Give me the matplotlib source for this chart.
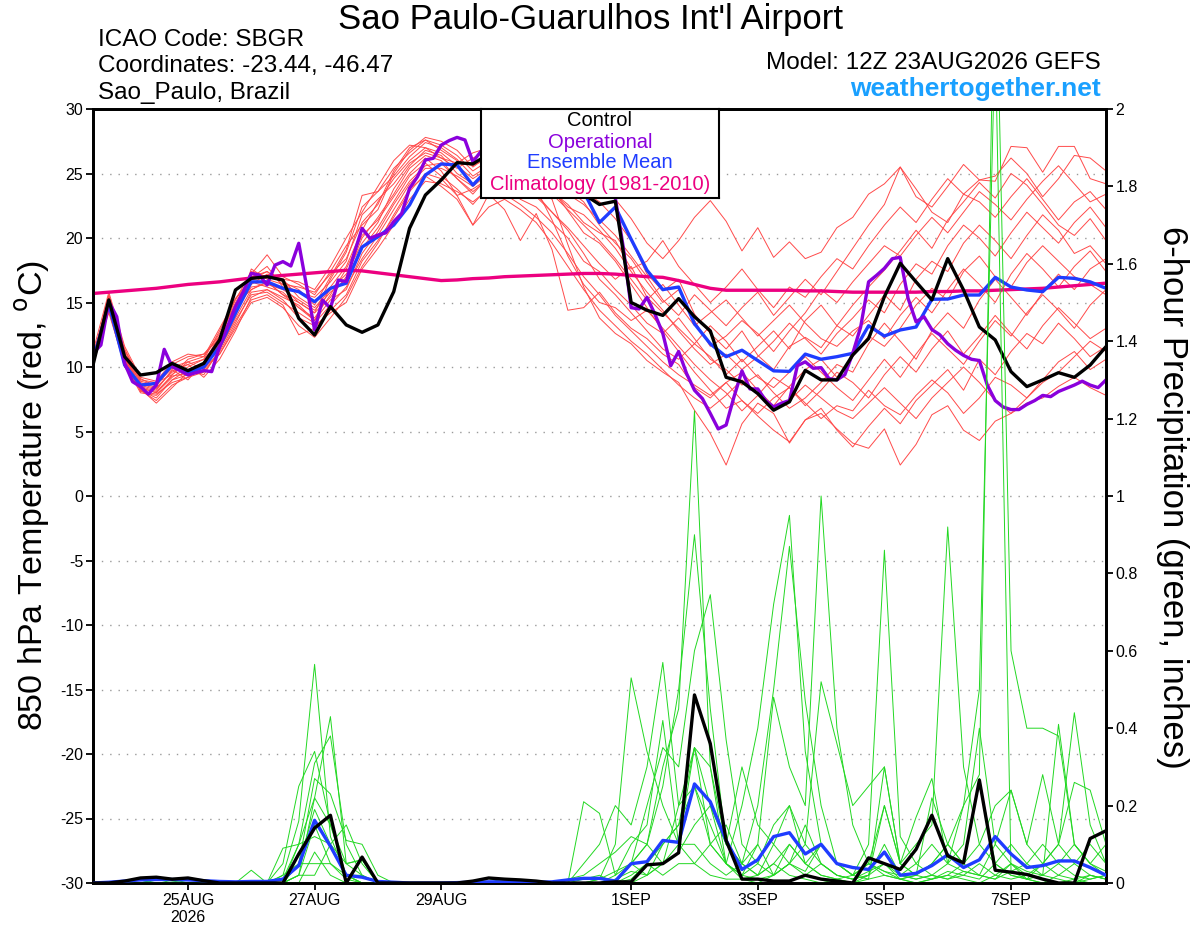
import matplotlib
matplotlib.use('Agg')
import matplotlib.pyplot as plt
import pandas as pd

plt.rcParams['font.family'] = ['Liberation Sans', 'DejaVu Sans']

# ---------------- data ----------------
times6 = pd.date_range('2026-08-23 12:00', periods=65, freq='6h')
times3 = pd.date_range('2026-08-23 12:00', periods=129, freq='3h')

tick_dates = pd.to_datetime(['2026-08-25', '2026-08-27', '2026-08-29', '2026-09-01',
                             '2026-09-03', '2026-09-05', '2026-09-07'])
tick_labels = ['25AUG\n2026', '27AUG', '29AUG', '1SEP', '3SEP', '5SEP', '7SEP']

temp_ticks = [30, 25, 20, 15, 10, 5, 0, -5, -10, -15, -20, -25, -30]
temp_tick_labels = ['30', '25', '20', '15', '10', '5', '0', '-5', '-10', '-15', '-20', '-25', '-30']
prcp_ticks = [0, 0.2, 0.4, 0.6, 0.8, 1.0, 1.2, 1.4, 1.6, 1.8, 2.0]
prcp_tick_labels = ['0', '0.2', '0.4', '0.6', '0.8', '1', '1.2', '1.4', '1.6', '1.8', '2']

control_t = [10.15, 15.2, 10.8, 9.38, 9.56, 10.28, 9.72, 10.28, 12.1,
             15.97, 16.87, 17.0, 16.74, 13.77, 12.48, 14.68, 13.26,
             12.69, 13.26, 15.84, 20.75, 23.33, 24.5, 25.84, 25.74,
             26.5, 27.0, 26.8, 26.0, 25.0, 24.0, 23.4, 22.6, 22.85,
             15.0, 14.4, 14.0, 15.3, 13.9, 12.8, 9.2, 8.85, 7.94, 6.65, 7.3, 9.74, 9.0, 9.0,
             10.93, 12.2, 15.45, 18.04, 16.6, 15.2, 18.4, 15.97, 13.1, 12.1, 9.64, 8.48,
             9.0, 9.56, 9.2, 10.15, 11.58]

mean_t = [10.5, 14.9, 10.15, 8.6, 8.73, 10.15, 9.56, 10.0, 11.58,
          14.16, 16.6, 16.6, 16.1, 15.84, 15.06, 16.1, 16.5,
          19.3, 20.1, 21.0, 22.56, 24.88, 25.74, 25.66, 24.1,
          25.4, 26.0, 26.2, 25.8, 25.2, 24.6, 23.6, 21.2, 22.4,
          19.9, 17.5, 16.0, 16.2, 13.35, 11.8, 10.8, 11.3, 10.5, 9.7, 9.66, 11.0, 10.6, 10.8,
          11.06, 13.2, 12.4, 12.87, 13.1, 15.25, 15.27, 15.58, 15.58, 16.95, 16.2, 15.97,
          15.84, 16.95, 16.87, 16.6, 16.1]

oper_t = [11.06, 11.7, 15.06, 13.9, 10.28, 8.86, 8.48, 7.9, 8.6, 11.37, 10.03, 9.72, 9.38,
          9.56, 9.72, 9.64, 11.58, 13.13, 14.68, 15.84, 17.26, 17.13, 16.36, 17.9, 18.17, 17.83,
          19.59, 16.23, 12.87, 15.19, 14.55, 16.74, 16.62, 18.8, 20.75, 19.97, 20.23, 20.4, 21.27,
          21.9, 23.85, 24.75, 26.05, 26.18, 27.2, 27.55, 27.8, 27.6, 25.9, 26.7,
          27.4, 27.9, 28.3, 28.0, 27.6, 27.2, 26.9, 26.4, 26.0, 25.6, 25.2, 25.6, 26.0, 25.4, 24.8, 24.2,
          23.1, 19.3, 14.6, 14.5, 15.4, 14.1, 12.6, 10.1, 11.2, 9.5, 8.2, 7.55, 6.4, 5.2, 5.5, 7.7,
          9.7, 8.3, 8.3, 7.4, 6.9, 7.2, 7.4, 10.1, 10.4, 9.9, 9.95, 9.1,
          9.0, 9.4, 11.06, 13.1, 16.6, 17.1, 17.65, 18.4, 18.5, 15.3, 13.5, 13.9, 12.9, 12.5, 11.8,
          11.3, 10.9, 10.6, 10.5, 8.6, 7.4, 6.9, 6.7, 6.7, 7.1, 7.4, 7.8, 7.7, 8.1, 8.35, 8.6, 8.9,
          8.6, 8.4, 9.0]

clim_t = [15.7, 15.8, 15.9, 16.0, 16.1, 16.25, 16.4, 16.5, 16.6, 16.75, 16.9, 17.0, 17.1, 17.2,
          17.3, 17.4, 17.5,
          17.45, 17.3, 17.15, 17.0, 16.85, 16.7,
          16.75, 16.85, 16.9, 17.0, 17.05, 17.1, 17.15, 17.2, 17.25, 17.25,
          17.2, 17.1, 17.0, 16.95, 16.7, 16.4, 16.1, 15.95,
          15.95, 15.95, 15.95, 15.95, 15.9, 15.9, 15.85, 15.8, 15.8, 15.8, 15.8, 15.8, 15.85, 15.85,
          15.9, 15.9, 15.95, 16.0, 16.05, 16.1, 16.2, 16.3, 16.4, 16.5]

ens_t_01 = [10.8, 15.2, 11.0, 8.8, 8.4, 9.6, 10.2, 10.6, 12.0,
            15.3, 16.9, 17.8, 16.2, 15.0, 14.2, 16.8, 18.9,
            22.4, 23.6, 24.8, 26.3, 27.4, 27.0, 26.1, 24.8,
            25.6, 26.4, 27.0, 26.2, 25.1, 24.0, 23.6, 22.8, 21.5,
            19.8, 17.2, 15.9, 16.8, 14.1, 12.6, 11.4, 12.8, 10.9, 9.8, 11.6, 12.3, 11.5, 13.2,
            14.8, 16.2, 17.5, 19.0, 20.6, 19.2, 21.4, 22.8, 24.3, 23.1, 25.0, 24.1, 22.6, 21.0, 20.2, 21.5, 19.8]
ens_t_02 = [10.2, 14.6, 10.6, 8.2, 7.4, 8.6, 9.2, 9.6, 11.2,
            13.4, 15.8, 16.0, 15.4, 14.8, 13.6, 15.2, 16.0,
            18.8, 20.5, 22.6, 24.4, 25.6, 25.8, 24.6, 23.4,
            24.8, 25.2, 25.8, 24.6, 23.8, 22.1, 20.4, 19.6, 18.2,
            16.4, 14.6, 12.8, 11.2, 9.6, 8.2, 6.8, 7.4, 6.2, 5.1, 4.2, 5.9, 6.4, 5.2,
            4.1, 3.7, 5.2, 2.4, 4.0, 6.3, 7.0, 5.1, 4.3, 5.8, 6.4, 7.2, 7.6, 8.5, 9.2, 8.4, 7.8]
ens_t_03 = [11.2, 15.8, 11.6, 9.2, 8.9, 10.4, 11.0, 10.8, 12.6,
            14.8, 17.2, 18.7, 17.0, 16.4, 15.6, 17.4, 19.4,
            21.0, 22.2, 25.0, 26.8, 27.8, 27.5, 26.8, 25.5,
            26.4, 27.2, 26.8, 25.4, 24.6, 23.5, 23.9, 24.2, 23.0,
            21.5, 19.6, 18.4, 19.8, 21.6, 22.9, 21.3, 19.0, 20.8, 18.5, 19.7, 18.4, 18.9, 20.8,
            21.6, 23.4, 24.2, 25.5, 23.2, 22.4, 24.0, 25.7, 24.5, 24.4, 27.1, 27.0, 25.1, 27.1, 27.1, 24.6, 24.2]
ens_t_04 = [10.6, 14.2, 10.2, 8.0, 7.8, 9.0, 9.8, 9.4, 11.4,
            13.8, 16.0, 16.6, 15.6, 14.6, 13.8, 15.6, 17.6,
            20.2, 21.4, 23.2, 25.0, 26.2, 25.2, 23.3, 21.0,
            23.4, 22.2, 19.8, 21.9, 19.1, 14.4, 14.6, 15.8, 14.2,
            13.0, 12.2, 11.0, 10.2, 8.4, 7.6, 8.8, 9.6, 8.2, 7.0, 8.5, 9.8, 10.6, 9.2,
            10.8, 12.4, 11.6, 13.0, 14.8, 16.1, 15.2, 17.4, 18.6, 17.0, 16.2, 18.1, 19.4, 18.2, 17.0, 16.4, 15.6]
ens_t_05 = [10.4, 15.0, 10.8, 8.5, 8.1, 9.3, 9.5, 10.2, 11.8,
            14.6, 16.4, 17.2, 16.8, 15.4, 14.6, 16.0, 17.2,
            19.6, 21.2, 23.8, 25.6, 26.8, 26.4, 25.0, 24.2,
            25.2, 26.0, 25.4, 24.0, 23.0, 19.5, 16.2, 13.8, 12.6,
            11.8, 10.5, 9.6, 8.8, 6.65, 4.85, 2.4, 5.6, 7.2, 6.4, 4.1, 5.9, 6.8, 5.1,
            3.8, 5.4, 6.8, 5.6, 7.4, 8.6, 9.8, 8.2, 10.6, 9.4, 11.2, 12.6, 11.8, 13.4, 12.2, 10.8, 11.6]
ens_t_06 = [10.9, 14.8, 10.4, 8.6, 8.2, 9.8, 9.0, 10.4, 12.4,
            14.0, 17.6, 16.8, 16.4, 15.8, 15.4, 16.6, 18.2,
            21.8, 23.0, 24.2, 25.8, 26.6, 26.2, 25.4, 26.2,
            26.8, 25.8, 24.4, 23.2, 22.0, 20.8, 19.4, 18.0, 16.8,
            17.8, 15.4, 14.2, 13.0, 11.8, 13.2, 12.0, 10.4, 11.6, 12.8, 11.4, 13.6, 14.8, 13.2,
            12.4, 14.0, 15.6, 14.4, 16.8, 18.2, 17.4, 19.6, 21.0, 19.8, 18.4, 20.2, 21.8, 20.6, 18.8, 19.4, 18.0]
ens_t_07 = [10.3, 15.4, 11.2, 8.9, 8.6, 10.0, 10.4, 9.8, 11.0,
            13.2, 15.2, 15.6, 14.8, 12.5, 13.0, 14.4, 15.6,
            18.2, 19.8, 21.6, 23.6, 25.0, 24.6, 23.3, 23.8,
            24.6, 24.2, 23.0, 22.4, 21.2, 20.0, 18.2, 17.4, 16.0,
            14.8, 13.4, 12.6, 13.8, 12.2, 10.6, 9.8, 8.6, 9.4, 8.0, 6.8, 7.6, 8.8, 10.2,
            9.6, 11.8, 13.4, 12.0, 10.6, 12.8, 14.2, 13.0, 15.2, 16.8, 15.4, 14.0, 15.8, 17.2, 16.0, 17.6, 18.4]
ens_t_08 = [10.7, 15.6, 11.4, 9.0, 8.8, 9.4, 10.6, 11.0, 12.2,
            15.0, 17.0, 17.4, 16.6, 16.0, 14.8, 17.0, 19.1,
            23.3, 23.6, 25.4, 26.6, 27.6, 27.2, 26.4, 25.2,
            26.0, 26.6, 26.2, 25.0, 24.2, 23.4, 22.6, 21.4, 20.2,
            18.6, 17.0, 15.2, 14.0, 15.6, 14.4, 13.2, 14.6, 15.8, 14.0, 15.4, 16.8, 15.6, 17.4,
            19.2, 21.0, 22.6, 25.5, 23.8, 22.0, 21.2, 23.4, 22.8, 21.6, 23.2, 24.6, 23.0, 21.4, 22.8, 23.6, 22.2]
ens_t_09 = [10.1, 14.4, 10.0, 8.3, 7.2, 8.4, 9.6, 10.0, 11.6,
            14.4, 16.2, 16.4, 16.0, 15.2, 14.4, 15.8, 16.8,
            19.2, 20.8, 22.8, 24.8, 25.8, 24.8, 23.8, 22.6,
            24.0, 24.8, 25.6, 23.8, 21.4, 18.6, 16.4, 15.0, 14.6,
            13.6, 14.4, 13.0, 11.6, 10.2, 9.0, 8.0, 6.6, 7.8, 9.2, 8.4, 7.0, 8.2, 9.6,
            8.8, 7.6, 9.4, 10.8, 9.6, 11.4, 12.8, 11.0, 12.4, 14.0, 12.6, 11.4, 13.2, 14.6, 13.4, 12.2, 13.0]
ens_t_10 = [11.0, 15.0, 10.6, 8.4, 8.0, 9.2, 10.0, 10.6, 12.8,
            15.3, 16.6, 16.2, 15.8, 14.6, 13.6, 16.2, 17.8,
            20.6, 22.8, 24.6, 26.0, 27.0, 26.6, 25.6, 24.6,
            25.4, 26.2, 26.4, 25.8, 24.8, 23.8, 22.8, 21.0, 19.6,
            18.4, 16.6, 15.0, 16.0, 13.6, 11.6, 12.4, 13.6, 12.6, 11.2, 12.8, 14.2, 16.0, 15.0,
            16.6, 18.0, 19.4, 18.6, 20.2, 21.6, 20.4, 22.0, 23.6, 22.6, 21.4, 23.0, 24.4, 25.6, 24.2, 22.8, 23.4]
ens_t_11 = [10.5, 14.9, 10.9, 8.7, 8.3, 9.7, 10.2, 9.2, 10.6,
            12.8, 15.4, 16.0, 15.2, 13.8, 13.2, 14.2, 15.0,
            17.6, 19.2, 21.0, 23.0, 24.4, 24.2, 23.6, 22.8,
            23.8, 23.4, 22.6, 21.6, 20.4, 18.8, 17.0, 15.6, 14.0,
            12.8, 11.6, 10.4, 9.4, 8.6, 7.8, 8.8, 7.4, 6.4, 7.6, 8.4, 7.2, 6.0, 7.0,
            6.6, 8.2, 7.0, 6.3, 7.8, 9.0, 8.0, 6.4, 7.6, 9.2, 8.6, 7.6, 9.0, 10.4, 11.2, 9.8, 10.6]
ens_t_12 = [10.6, 15.1, 11.3, 9.1, 8.5, 10.2, 10.8, 11.0, 12.4,
            14.2, 16.8, 17.4, 16.4, 16.2, 15.8, 17.2, 18.4,
            21.2, 22.6, 25.2, 27.0, 27.6, 26.8, 26.0, 25.6,
            26.2, 26.8, 26.0, 24.8, 23.6, 22.4, 21.8, 20.6, 19.2,
            17.4, 15.8, 14.4, 12.8, 11.4, 10.2, 11.0, 9.8, 10.8, 12.0, 13.4, 12.2, 11.0, 12.6,
            13.8, 15.2, 14.2, 16.4, 18.0, 17.2, 19.4, 21.0, 20.0, 18.6, 20.4, 22.0, 20.8, 19.6, 21.2, 22.4, 20.8]
ens_t_13 = [10.2, 14.6, 10.4, 8.2, 7.6, 9.0, 9.4, 9.8, 11.8,
            14.8, 16.0, 16.6, 15.6, 15.0, 14.2, 15.4, 17.0,
            20.0, 21.6, 23.4, 25.4, 26.4, 26.0, 24.6, 23.6,
            24.6, 25.4, 25.8, 24.6, 23.6, 22.6, 21.2, 20.4, 19.8,
            17.6, 18.2, 19.8, 17.8, 16.4, 15.0, 16.2, 17.6, 16.0, 14.6, 16.2, 15.4, 17.0, 18.4,
            17.6, 19.4, 21.0, 22.4, 21.2, 23.0, 24.6, 23.4, 24.5, 24.8, 26.2, 25.0, 23.2, 24.6, 26.4, 26.2, 25.2]
ens_t_14 = [10.8, 15.3, 10.6, 8.5, 8.7, 9.9, 9.6, 10.2, 11.4,
            13.6, 15.6, 15.8, 15.0, 14.2, 13.4, 14.8, 16.2,
            18.4, 20.2, 22.2, 24.2, 25.4, 25.4, 24.8, 24.0,
            25.0, 25.6, 24.8, 23.4, 22.0, 20.6, 18.8, 16.8, 15.6,
            14.2, 12.8, 11.4, 10.6, 11.8, 10.8, 9.4, 10.6, 9.2, 8.4, 9.6, 10.8, 9.6, 8.4,
            7.4, 9.0, 10.6, 9.2, 11.0, 12.6, 11.4, 10.2, 12.0, 13.6, 12.4, 14.2, 15.6, 14.4, 13.0, 14.8, 16.0]
ens_t_15 = [10.4, 15.5, 11.0, 8.4, 8.0, 9.4, 10.4, 10.8, 13.0,
            15.2, 17.4, 17.0, 16.8, 16.6, 16.0, 17.8, 20.0,
            22.0, 24.0, 26.0, 27.2, 27.0, 26.2, 25.8, 26.6,
            27.0, 26.4, 25.6, 24.6, 23.4, 22.2, 21.0, 19.8, 18.4,
            16.8, 15.2, 16.4, 14.8, 13.2, 14.2, 15.2, 13.8, 12.4, 13.6, 14.8, 13.4, 12.2, 11.6,
            12.8, 13.6, 12.2, 14.0, 15.4, 14.2, 16.0, 17.6, 16.4, 15.0, 17.2, 18.8, 17.6, 16.2, 17.8, 19.0, 17.4]
ens_t_16 = [10.9, 14.7, 10.8, 8.1, 7.9, 8.8, 9.2, 10.0, 11.0,
            13.0, 15.0, 15.4, 14.6, 13.2, 12.3, 13.8, 15.4,
            17.8, 19.6, 21.8, 23.8, 24.8, 24.0, 23.0, 21.0,
            22.4, 23.0, 22.2, 21.2, 19.6, 17.8, 16.0, 14.4, 13.2,
            12.0, 11.0, 9.8, 8.6, 7.6, 6.8, 7.8, 9.0, 8.0, 6.8, 7.4, 8.6, 7.6, 6.6,
            6.0, 7.2, 8.4, 7.2, 6.0, 7.6, 8.8, 10.0, 8.8, 7.4, 6.4, 7.6, 8.8, 9.6, 10.8, 12.0, 11.2]

control_p = [0, 0, 0.005, 0.013, 0.015, 0.01, 0.013, 0.006, 0, 0, 0, 0, 0,
             0.075, 0.142, 0.175, 0, 0.067, 0, 0, 0, 0, 0, 0, 0.005, 0.013,
             0.01, 0.008, 0.005, 0, 0, 0, 0, 0.003, 0.003, 0.047, 0.05, 0.078, 0.486,
             0.36, 0.11, 0.01, 0.01, 0.005, 0.005, 0.02, 0.01, 0.005, 0, 0.065, 0.05, 0.035,
             0.087, 0.175, 0.07, 0.052, 0.266, 0.033, 0.028, 0.022, 0.01, 0, 0, 0.115, 0.135]

mean_p = [0, 0.002, 0.005, 0.008, 0.009, 0.009, 0.008, 0.006, 0.004, 0.003, 0.004, 0.004, 0.01,
          0.045, 0.162, 0.095, 0.02, 0.015, 0.004, 0.002, 0, 0, 0, 0.001, 0.002, 0.003,
          0.003, 0.003, 0.002, 0.003, 0.008, 0.012, 0.012, 0.005, 0.05, 0.055, 0.11, 0.105, 0.256,
          0.21, 0.11, 0.035, 0.06, 0.12, 0.13, 0.075, 0.1, 0.05, 0.04, 0.035, 0.08, 0.02,
          0.025, 0.045, 0.073, 0.04, 0.06, 0.12, 0.075, 0.04, 0.045, 0.057, 0.057, 0.04, 0.02]

ens_p_01 = [0, 0, 0, 0.01, 0.01, 0.005, 0, 0, 0, 0, 0, 0, 0.02,
            0.16, 0.565, 0.12, 0.02, 0, 0, 0, 0, 0, 0, 0, 0, 0,
            0, 0, 0, 0, 0.01, 0.02, 0.05, 0.08, 0.12, 0.1, 0.3, 0.45, 1.22,
            0.3, 0.05, 0.01, 0, 0.02, 0.1, 0.05, 0.02, 0.01, 0, 0.02, 0.05, 0.01,
            0, 0.01, 0.03, 0.02, 0.01, 0.05, 0.02, 0.01, 0, 0, 0.01, 0, 0]
ens_p_02 = [0, 0, 0, 0, 0.01, 0.01, 0, 0, 0, 0, 0, 0, 0.01,
            0.1, 0.22, 0.43, 0.05, 0.02, 0, 0, 0, 0, 0, 0, 0, 0,
            0, 0, 0, 0, 0, 0.01, 0.02, 0, 0.05, 0.1, 0.25, 0.5, 0.9,
            0.45, 0.1, 0.05, 0.02, 0.05, 0.02, 0.01, 0, 0.01, 0.02, 0.05, 0.03, 0.01,
            0.02, 0.05, 0.1, 0.2, 0.28, 2.5, 0.6, 0.4, 0.4, 0.38, 0.1, 0.05, 0.02]
ens_p_03 = [0, 0, 0, 0, 0, 0, 0, 0, 0, 0, 0, 0, 0.05,
            0.25, 0.34, 0.15, 0.02, 0, 0, 0, 0, 0, 0, 0, 0, 0,
            0, 0, 0, 0, 0, 0, 0.01, 0.03, 0.05, 0.2, 0.35, 0.3, 0.6,
            0.745, 0.37, 0.1, 0.05, 0.02, 0.05, 0.1, 0.05, 0.02, 0.01, 0.03, 0.05, 0.02,
            0.01, 0.02, 0.05, 0.2, 0.5, 2.2, 0.03, 0.01, 0, 0.02, 0.05, 0.1, 0.05]
ens_p_04 = [0, 0, 0, 0.01, 0.01, 0.01, 0.01, 0, 0, 0, 0, 0, 0,
            0.1, 0.31, 0.38, 0.1, 0.02, 0, 0, 0, 0, 0, 0, 0, 0,
            0, 0, 0, 0, 0, 0, 0, 0.02, 0.05, 0.02, 0.1, 0.15, 0.25,
            0.1, 0.05, 0.2, 0.4, 0.72, 0.95, 0.34, 0.1, 0.05, 0.02, 0.1, 0.86, 0.12,
            0.05, 0.02, 0.01, 0.03, 0.02, 0.01, 0.05, 0.02, 0.01, 0, 0, 0.02, 0.01]
ens_p_05 = [0, 0, 0, 0, 0, 0, 0, 0, 0, 0, 0, 0, 0,
            0.05, 0.27, 0.23, 0.11, 0.1, 0.02, 0, 0, 0, 0, 0, 0, 0,
            0, 0, 0, 0, 0, 0.05, 0.1, 0.2, 0.15, 0.3, 0.57, 0.2, 0.35,
            0.2, 0.05, 0.02, 0.1, 0.48, 0.3, 0.2, 1.0, 0.4, 0.15, 0.05, 0.02, 0.01,
            0.02, 0.05, 0.1, 0.05, 0.02, 0.01, 0.03, 0.05, 0.1, 0.05, 0.02, 0.01, 0.02]
ens_p_06 = [0, 0, 0, 0, 0.01, 0, 0, 0, 0, 0, 0.033, 0, 0,
            0.02, 0.22, 0.15, 0.05, 0.06, 0, 0, 0, 0, 0, 0, 0, 0,
            0, 0, 0, 0, 0, 0, 0.01, 0.1, 0.53, 0.34, 0.2, 0.1, 0.05,
            0.1, 0.15, 0.05, 0.2, 0.5, 0.87, 0.47, 0.2, 0.05, 0.02, 0.05, 0.2, 0.05,
            0.1, 0.15, 0.92, 0.3, 0.1, 0.05, 0.02, 0.01, 0.05, 0.1, 0.05, 0.02, 0.01]
ens_p_07 = [0, 0, 0, 0, 0, 0, 0, 0, 0, 0, 0, 0, 0.02,
            0.05, 0.19, 0.1, 0.02, 0, 0, 0, 0, 0, 0, 0, 0, 0.012,
            0, 0, 0, 0, 0, 0.21, 0.18, 0.02, 0.1, 0.15, 0.42, 0.1, 0.35,
            0.3, 0.1, 0.3, 0.15, 0.1, 0.2, 0.1, 0.52, 0.36, 0.2, 0.25, 0.3, 0.05,
            0.17, 0.27, 0.05, 0.1, 0.4, 0.1, 0.24, 0.1, 0.28, 0.1, 0.26, 0.24, 0.1]
ens_p_08 = [0, 0, 0, 0.01, 0, 0, 0, 0, 0, 0, 0, 0, 0.09,
            0.1, 0.12, 0.1, 0.05, 0.06, 0, 0, 0, 0, 0, 0, 0, 0,
            0, 0, 0, 0, 0, 0, 0, 0, 0.05, 0.1, 0.05, 0.2, 0.25,
            0.15, 0.05, 0.02, 0.05, 0.15, 0.2, 0.05, 0.1, 0.05, 0.02, 0.01, 0.3, 0.05,
            0.02, 0.22, 0.1, 0.05, 0.27, 0.05, 0.1, 0.05, 0.02, 0.41, 0.1, 0.05, 0.03]
ens_p_09 = [0, 0, 0, 0, 0, 0, 0, 0, 0, 0, 0, 0, 0,
            0.05, 0.05, 0.05, 0.02, 0.02, 0, 0, 0, 0, 0, 0, 0, 0,
            0, 0, 0, 0, 0, 0, 0, 0, 0.02, 0.05, 0.1, 0.15, 0.35,
            0.1, 0.05, 0.02, 0.01, 0.02, 0.05, 0.15, 0.05, 0.02, 0.01, 0.02, 0.2, 0.05,
            0.02, 0.01, 0.02, 0.05, 0.1, 0.2, 0.24, 0.1, 0.05, 0.1, 0.44, 0.15, 0.05]
ens_p_10 = [0, 0, 0, 0, 0, 0, 0, 0, 0, 0, 0, 0, 0,
            0.02, 0.02, 0.1, 0.15, 0.05, 0, 0, 0, 0, 0, 0, 0, 0,
            0, 0, 0, 0, 0, 0, 0, 0, 0, 0.02, 0.05, 0.1, 0.1,
            0.05, 0.02, 0.05, 0.1, 0.02, 0.05, 0.03, 0.1, 0.05, 0.02, 0.05, 0.03, 0.02,
            0.05, 0.1, 0.05, 0.03, 0.02, 0.1, 0.05, 0.03, 0.02, 0.05, 0.1, 0.05, 0.1]
ens_p_11 = [0, 0, 0, 0, 0, 0, 0, 0, 0, 0, 0, 0, 0,
            0.02, 0.15, 0.05, 0.01, 0, 0, 0, 0, 0, 0, 0, 0, 0,
            0, 0, 0, 0, 0, 0, 0, 0.01, 0.03, 0.02, 0.05, 0.08, 0.15,
            0.2, 0.1, 0.05, 0.02, 0.1, 0.05, 0.02, 0.05, 0.02, 0.01, 0.02, 0.1, 0.02,
            0.01, 0.02, 0.01, 0.02, 0.05, 0.02, 0.01, 0.02, 0.05, 0.02, 0.01, 0.02, 0.01]
ens_p_12 = [0, 0, 0, 0, 0, 0, 0, 0, 0, 0, 0, 0, 0,
            0, 0.08, 0.02, 0, 0, 0, 0, 0, 0, 0, 0, 0, 0,
            0, 0, 0, 0, 0, 0, 0, 0, 0.01, 0.05, 0.02, 0.05, 0.05,
            0.02, 0.01, 0.01, 0.02, 0.05, 0.1, 0.05, 0.02, 0.01, 0, 0.01, 0.02, 0.01,
            0, 0.01, 0.02, 0.01, 0, 0.02, 0.05, 0.01, 0.02, 0.01, 0, 0.01, 0.02]

ens_temp = [ens_t_01, ens_t_02, ens_t_03, ens_t_04, ens_t_05, ens_t_06, ens_t_07, ens_t_08,
            ens_t_09, ens_t_10, ens_t_11, ens_t_12, ens_t_13, ens_t_14, ens_t_15, ens_t_16]
ens_prcp = [ens_p_01, ens_p_02, ens_p_03, ens_p_04, ens_p_05, ens_p_06, ens_p_07, ens_p_08,
            ens_p_09, ens_p_10, ens_p_11, ens_p_12]

legend_labels = ['Control', 'Operational', 'Ensemble Mean', 'Climatology (1981-2010)']

# ---------------- styles ----------------
C_RED = '#ff4a4a'
C_GREEN = '#22d822'
C_CTRL = '#000000'
C_OPER = '#8a00dc'
C_MEAN = '#1f3cff'
C_CLIM = '#ec0080'
legend_colors = [C_CTRL, C_OPER, C_MEAN, C_CLIM]
LW = 2.4

W, H = 1200, 927
fig = plt.figure(figsize=(W / 100, H / 100), dpi=100)
ax1 = fig.add_axes([93 / W, 1 - 883 / H, (1106 - 93) / W, (883 - 109) / H])
ax2 = ax1.twinx()

for m in ens_temp:
    ax1.plot(times6[:len(m)], m, color=C_RED, lw=0.7, zorder=2)
ax1.plot(times6[:len(clim_t)], clim_t, color=C_CLIM, lw=LW, zorder=4)
ax1.plot(times6[:len(mean_t)], mean_t, color=C_MEAN, lw=LW, zorder=5)
ax1.plot(times3[:len(oper_t)], oper_t, color=C_OPER, lw=LW, zorder=6)
ax1.plot(times6[:len(control_t)], control_t, color=C_CTRL, lw=LW, zorder=7)

for m in ens_prcp:
    ax2.plot(times6[:len(m)], m, color=C_GREEN, lw=0.7, zorder=2)
ax2.plot(times6[:len(mean_p)], mean_p, color=C_MEAN, lw=LW, zorder=5)
ax2.plot(times6[:len(control_p)], control_p, color=C_CTRL, lw=LW, zorder=6)

ax1.set_xlim(times6[0], times6[-1])
ax1.set_ylim(-30, 30)
ax2.set_ylim(0, 2)

ax1.set_yticks(temp_ticks)
ax1.set_yticklabels(temp_tick_labels)
ax2.set_yticks(prcp_ticks)
ax2.set_yticklabels(prcp_tick_labels)
ax1.set_xticks(tick_dates)
ax1.set_xticklabels(tick_labels)
ax1.xaxis.set_minor_locator(matplotlib.ticker.NullLocator())

for a in (ax1, ax2):
    a.tick_params(axis='both', direction='out', length=5, width=1.3, labelsize=11.5, pad=2)
    for s in a.spines.values():
        s.set_linewidth(2.0)

ax1.yaxis.grid(True, linestyle=(0, (1, 5)), color='#9a9a9a', lw=1.0)
ax1.set_axisbelow(True)

# titles
fig.text(590 / W, 1 - 19 / H, "Sao Paulo-Guarulhos Int'l Airport", ha='center', va='center', fontsize=25)
fig.text(98 / W, 1 - 40 / H, 'ICAO Code: SBGR', ha='left', va='center', fontsize=17.5)
fig.text(98 / W, 1 - 66 / H, 'Coordinates: -23.44, -46.47', ha='left', va='center', fontsize=17.5)
fig.text(98 / W, 1 - 93 / H, 'Sao_Paulo, Brazil', ha='left', va='center', fontsize=17.5)
fig.text(1101 / W, 1 - 63 / H, 'Model: 12Z 23AUG2026 GEFS', ha='right', va='center', fontsize=17.5)
fig.text(1101 / W, 1 - 89 / H, 'weathertogether.net', ha='right', va='center', fontsize=19,
         fontweight='bold', color='#1aa0ff')

fig.text(33 / W, 1 - 495 / H, '850 hPa Temperature (red, $^{\\mathrm{o}}$C)', rotation=90,
         ha='center', va='center', fontsize=24.5)
fig.text(1172 / W, 1 - 497 / H, '6-hour Precipitation (green, inches)', rotation=-90,
         ha='center', va='center', fontsize=25)

# legend box
axl = fig.add_axes([481 / W, 1 - 198 / H, 238 / W, 89 / H], zorder=10)
axl.set_xticks([])
axl.set_yticks([])
axl.set_facecolor('white')
for s in axl.spines.values():
    s.set_linewidth(1.5)
for lbl, col, ypx in zip(legend_labels, legend_colors, [121, 142, 163, 185]):
    axl.text(0.5, (198 - ypx) / 89, lbl, color=col, ha='center', va='center', fontsize=14.5,
             transform=axl.transAxes)

fig.savefig('out.png', dpi=100)
